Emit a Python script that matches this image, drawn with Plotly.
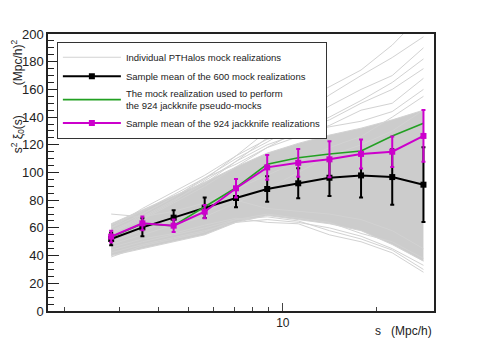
import plotly.graph_objects as go

# separation bins s (Mpc/h)
s = [2.82, 3.55, 4.47, 5.62, 7.08, 8.91, 11.2, 14.1, 17.8, 22.4, 28.2]

# sample mean of the 600 mocks and its scatter
mock_mean = [52.0, 60.4, 67.4, 74.6, 81.6, 88.1, 92.2, 96.2, 97.9, 96.7, 91.2]
mock_err = [4.5, 6.5, 5.4, 7.4, 6.7, 9.2, 10.8, 13.2, 16.0, 20.0, 27.0]

# the single mock used for the jackknife
mock_used = [53.5, 63.0, 61.6, 75.0, 89.0, 106.0, 110.7, 113.4, 115.5, 126.4, 135.5]

# mean of the 924 jackknife realizations
jk_mean = [53.7, 63.3, 61.6, 71.7, 88.6, 103.7, 107.0, 109.5, 113.4, 115.0, 126.4]
jk_err = [4.3, 5.0, 4.5, 4.8, 6.7, 9.0, 10.0, 13.0, 10.5, 11.0, 18.7]

# dense part of the 600 individual mocks (envelope)
band_lower = [40, 45, 50, 55, 64, 69, 66, 63, 58, 48, 36]
band_upper = [63, 73, 83, 93, 104, 114, 121, 127, 132, 138, 145]

# a few individual mocks that stick out of the dense bundle
mock_curves = [
    [60, 70, 82, 95, 112, 130, 150, 162, 174, 192, 215],
    [58, 68, 80, 92, 108, 125, 140, 156, 170, 183, 198],
    [62, 72, 84, 96, 110, 122, 135, 148, 160, 170, 190],
    [56, 66, 78, 90, 104, 118, 130, 140, 152, 165, 182],
    [60, 74, 86, 98, 112, 124, 130, 138, 150, 160, 175],
    [55, 70, 82, 96, 106, 118, 126, 134, 145, 150, 168],
    [57, 67, 79, 94, 108, 120, 128, 133, 137, 144, 160],
    [70, 68, 72, 78, 88, 98, 108, 118, 126, 140, 155],
    [48, 55, 62, 68, 78, 88, 100, 112, 120, 130, 145],
    [44, 50, 55, 60, 66, 68, 65, 58, 52, 44, 30],
    [42, 48, 53, 58, 64, 66, 64, 60, 54, 45, 33],
    [46, 52, 56, 62, 67, 64, 63, 55, 50, 42, 28],
    [39, 47, 52, 57, 66, 70, 67, 64, 56, 50, 38],
    [50, 58, 66, 72, 80, 74, 72, 70, 66, 58, 45],
]

GRAY = "rgb(210,210,210)"
fig = go.Figure()

fig.add_trace(go.Scatter(x=s, y=band_lower, mode="lines", line=dict(color=GRAY, width=1),
                         showlegend=False, hoverinfo="skip"))
fig.add_trace(go.Scatter(x=s, y=band_upper, mode="lines", line=dict(color=GRAY, width=1),
                         fill="tonexty", fillcolor="rgb(204,204,204)",
                         showlegend=False, hoverinfo="skip"))
for i, c in enumerate(mock_curves):
    fig.add_trace(go.Scatter(x=s, y=c, mode="lines", line=dict(color=GRAY, width=1),
                             name="Individual PTHalos mock realizations",
                             showlegend=(i == 0), hoverinfo="skip"))

fig.add_trace(go.Scatter(
    x=s, y=mock_mean, mode="lines+markers",
    name="Sample mean of the 600 mock realizations",
    line=dict(color="black", width=2),
    marker=dict(symbol="square", size=6, color="black"),
    error_y=dict(type="data", array=mock_err, color="black", thickness=2, width=2)))
fig.add_trace(go.Scatter(
    x=s, y=mock_used, mode="lines",
    name="The mock realization used to perform<br>the 924 jackknife pseudo-mocks",
    line=dict(color="#22a022", width=1.6)))
fig.add_trace(go.Scatter(
    x=s, y=jk_mean, mode="lines+markers",
    name="Sample mean of the 924 jackknife realizations",
    line=dict(color="#cc00cc", width=2),
    marker=dict(symbol="square", size=6, color="#cc00cc"),
    error_y=dict(type="data", array=jk_err, color="#cc00cc", thickness=2, width=2)))

fig.update_layout(
    width=482, height=346,
    margin=dict(l=40, r=56, t=26, b=43),
    paper_bgcolor="white", plot_bgcolor="white",
    font=dict(family="Liberation Sans, Arial, sans-serif", size=12, color="#222"),
    legend=dict(x=0.023, y=0.972, xanchor="left", yanchor="top", traceorder="normal",
                bgcolor="white", bordercolor="#333", borderwidth=1, itemwidth=58,
                font=dict(size=9.5), tracegroupgap=0),
    xaxis=dict(type="log", range=[0.248, 1.484], showgrid=False, zeroline=False,
               showline=True, linecolor="#222", linewidth=1.5, mirror=True,
               ticks="inside", ticklen=8, tickcolor="#444", tickvals=[10], ticktext=["10"],
               minor=dict(ticks="inside", ticklen=4, tickcolor="#444",
                          tickvals=[2, 3, 4, 5, 6, 7, 8, 9, 20])),
    yaxis=dict(range=[0, 200], showgrid=False, zeroline=False,
               showline=True, linecolor="#222", linewidth=1.5, mirror=True,
               ticks="inside", ticklen=11, tickcolor="#222", dtick=20,
               tickfont=dict(size=13),
               minor=dict(ticks="inside", ticklen=6, tickcolor="#222", dtick=5)),
    annotations=[
        dict(text="s<sup>2</sup> ξ<sub>0</sub>(s)         (Mpc/h)<sup>2</sup>",
             xref="paper", yref="paper", x=-0.078, y=0.775, textangle=-90,
             showarrow=False, xanchor="center", yanchor="middle", font=dict(size=12)),
        dict(text="s   (Mpc/h)", xref="paper", yref="paper", x=0.92, y=-0.072,
             showarrow=False, xanchor="center", yanchor="middle", font=dict(size=12)),
    ],
)

fig.write_html("out.html")
